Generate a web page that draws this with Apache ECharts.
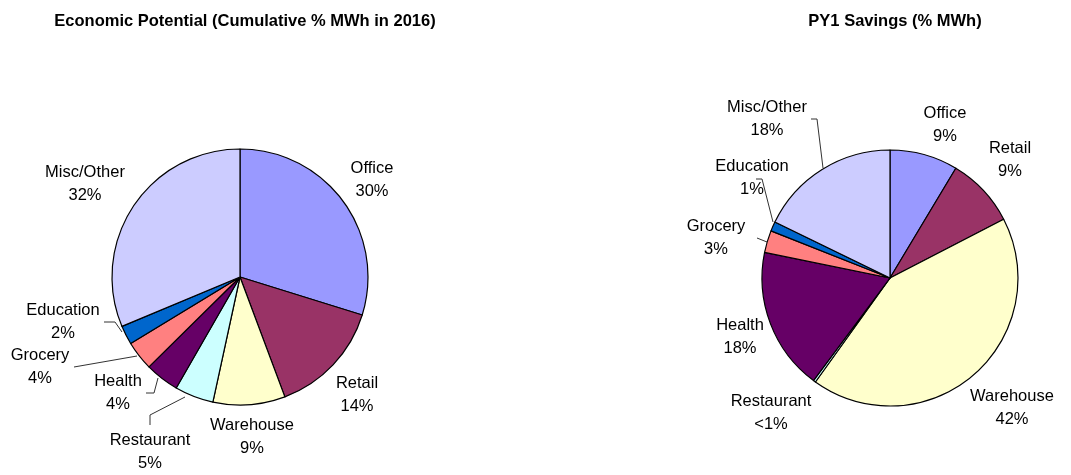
<!DOCTYPE html>
<html>
<head>
<meta charset="utf-8">
<title>Economic Potential vs PY1 Savings</title>
<script src="https://cdn.jsdelivr.net/npm/echarts@6/dist/echarts.min.js"></script>
<style>
  html, body { margin: 0; padding: 0; background: #fff; }
  #chart { width: 1071px; height: 475px; }
</style>
</head>
<body>
<div id="chart"></div>
<script>
    // data
    var sectors = ['Office', 'Retail', 'Warehouse', 'Restaurant', 'Health', 'Grocery', 'Education', 'Misc/Other'];
    var economicValues = [29.8, 14.5, 9.1, 4.9, 4.3, 3.7, 2.4, 31.3];
    var economicLabels = ['30%', '14%', '9%', '5%', '4%', '4%', '2%', '32%'];
    var savingsValues = [8.6, 8.8, 42.5, 0.3, 18.0, 2.8, 1.2, 17.8];
    var savingsLabels = ['9%', '9%', '42%', '<1%', '18%', '3%', '1%', '18%'];

    // excel style palette
    var colors = ['#9999FF', '#993366', '#FFFFCC', '#CCFFFF', '#660066', '#FF8080', '#0066CC', '#CCCCFF'];
    var font = '"Liberation Sans", Arial, sans-serif';

    // where each label sits (text center) and its leader line, per pie
    var leftSpots = [
        {x: 372, y: 180},
        {x: 357, y: 395},
        {x: 252, y: 437},
        {x: 150, y: 452, line: [[185, 397], [150, 415], [150, 425]]},
        {x: 118, y: 393, line: [[158, 378], [154, 393], [146, 393]]},
        {x: 40, y: 367, line: [[137, 356], [74, 367]]},
        {x: 63, y: 322, line: [[122, 332], [115, 322], [104, 322]]},
        {x: 85, y: 184}
    ];
    var rightSpots = [
        {x: 945, y: 125},
        {x: 1010, y: 160},
        {x: 1012, y: 408},
        {x: 771, y: 413},
        {x: 740, y: 337},
        {x: 716, y: 238, line: [[767, 242], [757, 238]]},
        {x: 752, y: 178, line: [[773, 222], [762, 179], [756, 179]]},
        {x: 767, y: 119, line: [[823, 168], [817, 119], [811, 119]]}
    ];

    function buildData(values, spots) {
        return sectors.map(function (name, i) {
            return {
                name: name,
                value: values[i],
                itemStyle: {color: colors[i]},
                labelLine: {show: !!spots[i].line}
            };
        });
    }

    function pieSeries(center, values, labels, spots) {
        return {
            type: 'pie',
            center: center,
            radius: 128,
            startAngle: 90,
            clockwise: true,
            avoidLabelOverlap: false,
            animation: false,
            silent: true,
            itemStyle: {borderColor: '#000', borderWidth: 1.2},
            label: {
                show: true,
                position: 'outside',
                color: '#000',
                fontFamily: font,
                fontSize: 16.5,
                lineHeight: 23,
                align: 'center',
                formatter: function (p) {
                    return p.name + '\n' + labels[p.dataIndex];
                }
            },
            labelLine: {
                show: true,
                smooth: false,
                lineStyle: {color: '#333', width: 1}
            },
            labelLayout: function (params) {
                var s = spots[params.dataIndex];
                var out = {x: s.x, y: s.y, align: 'center', verticalAlign: 'middle'};
                if (s.line) out.labelLinePoints = s.line;
                return out;
            },
            data: buildData(values, spots)
        };
    }

    var myChart = echarts.init(document.getElementById('chart'));
    var option = {
        backgroundColor: '#fff',
        title: [
            {
                text: 'Economic Potential (Cumulative % MWh in 2016)',
                left: 240, top: 8, textAlign: 'center',
                textStyle: {fontFamily: font, fontSize: 16.5, fontWeight: 'bold', color: '#000'}
            },
            {
                text: 'PY1 Savings (% MWh)',
                left: 890, top: 8, textAlign: 'center',
                textStyle: {fontFamily: font, fontSize: 16.5, fontWeight: 'bold', color: '#000'}
            }
        ],
        series: [
            pieSeries([240, 277], economicValues, economicLabels, leftSpots),
            pieSeries([890, 278], savingsValues, savingsLabels, rightSpots)
        ]
    };
    myChart.setOption(option);
</script>
</body>
</html>
